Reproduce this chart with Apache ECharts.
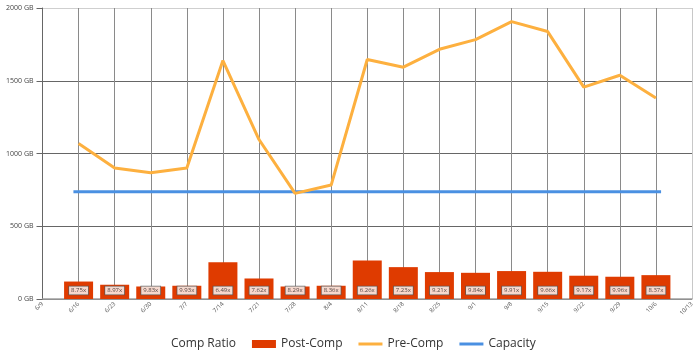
<!DOCTYPE html>
<html>
<head>
<meta charset="utf-8">
<script src="https://cdn.jsdelivr.net/npm/echarts@6/dist/echarts.min.js"></script>
<style>html,body{margin:0;padding:0;background:#fff;}#c{width:700px;height:359px;}</style>
</head>
<body>
<div id="c"></div>
<script>
const xTickLabels = ['6/9','6/16','6/23','6/30','7/7','7/14','7/21','7/28','8/4','8/11','8/18','8/25','9/1','9/8','9/15','9/22','9/29','10/6','10/13'];
const weeks = ['6/16','6/23','6/30','7/7','7/14','7/21','7/28','8/4','8/11','8/18','8/25','9/1','9/8','9/15','9/22','9/29','10/6'];
const postComp = [120, 98, 86, 91, 253, 141, 86, 91, 264, 219, 185, 180, 192, 187, 160, 153, 164];
const preComp = [1068, 901, 867, 901, 1639, 1096, 726, 783, 1646, 1593, 1716, 1783, 1906, 1838, 1456, 1538, 1381];
const compRatio = ['8.75x','8.97x','9.83x','9.93x','6.49x','7.62x','8.29x','8.36x','6.26x','7.23x','9.21x','9.84x','9.91x','9.66x','9.17x','9.96x','8.37x'];
const capacityDates = ['6/15','10/7'];
const capacityValues = [737, 737];

const DAY = 86400000;
function dayOf(s){ const p = s.split('/').map(Number); return Math.round((Date.UTC(2019,p[0]-1,p[1]) - Date.UTC(2019,5,9)) / DAY); }

const FONT = '"Open Sans", "Noto Sans", sans-serif';
const LINE_ICON = 'path://M0,0H24V3H0Z';
const chart = echarts.init(document.getElementById('c'));
const xSplitColors = xTickLabels.map((t,i)=> i === xTickLabels.length-1 ? '#c8c8c8' : '#8a8a8a');

chart.setOption({
  animation: false,
  textStyle: { fontFamily: FONT },
  grid: { left: 42.5, right: 8, top: 8, bottom: 60 },
  xAxis: {
    type: 'value', min: 0, max: (xTickLabels.length-1)*7, interval: 7,
    axisLine: { show: true, lineStyle: { color: '#a0a0a0', width: 1.5 } },
    axisTick: { show: false },
    axisLabel: { rotate: 45, fontSize: 6, color: '#555', margin: 4, fontFamily: FONT,
      formatter: v => xTickLabels[Math.round(v/7)] || '' },
    splitLine: { show: true, lineStyle: { color: xSplitColors, width: 1 } }
  },
  yAxis: {
    type: 'value', min: 0, max: 2000, interval: 500,
    axisLine: { show: true, lineStyle: { color: '#666', width: 1 } },
    axisTick: { show: true, length: 6, lineStyle: { color: '#666' } },
    axisLabel: { fontSize: 7, color: '#444', margin: 9, fontFamily: FONT, formatter: v => v + ' GB' },
    splitLine: { show: true, lineStyle: { color: ['#666','#666','#666','#666','#cfcfcf'], width: 1 } }
  },
  legend: {
    left: 137, top: 333, itemWidth: 24, itemHeight: 8, itemGap: 16,
    textStyle: { fontSize: 12, color: '#333', fontFamily: FONT },
    selectedMode: false,
    data: [
      { name: 'Comp Ratio', icon: 'none' },
      { name: 'Post-Comp', icon: 'rect' },
      { name: 'Pre-Comp', icon: LINE_ICON },
      { name: 'Capacity', icon: LINE_ICON }
    ]
  },
  series: [
    {
      name: 'Post-Comp', type: 'bar', barWidth: 29, z: 2,
      itemStyle: { color: '#DF3B00' },
      data: weeks.map((w,i)=>[dayOf(w), postComp[i]])
    },
    {
      name: 'Comp Ratio', type: 'scatter', symbolSize: 1, z: 5,
      itemStyle: { color: 'rgba(0,0,0,0)' },
      label: {
        show: true, position: 'top', distance: 4,
        formatter: p => compRatio[p.dataIndex],
        fontSize: 6, color: '#222', lineHeight: 7, fontFamily: FONT,
        backgroundColor: '#fff', borderColor: '#555', borderWidth: 0.8, padding: [0.5, 2]
      },
      data: weeks.map((w)=>[dayOf(w), 0])
    },
    {
      name: 'Pre-Comp', type: 'line', symbol: 'none', z: 4,
      itemStyle: { color: '#FDB03F' },
      lineStyle: { color: '#FDB03F', width: 3 },
      data: weeks.map((w,i)=>[dayOf(w), preComp[i]])
    },
    {
      name: 'Capacity', type: 'line', symbol: 'none', z: 3,
      itemStyle: { color: '#4A90E2' },
      lineStyle: { color: '#4A90E2', width: 3 },
      data: capacityDates.map((d,i)=>[dayOf(d), capacityValues[i]])
    }
  ]
});
</script>
</body>
</html>
